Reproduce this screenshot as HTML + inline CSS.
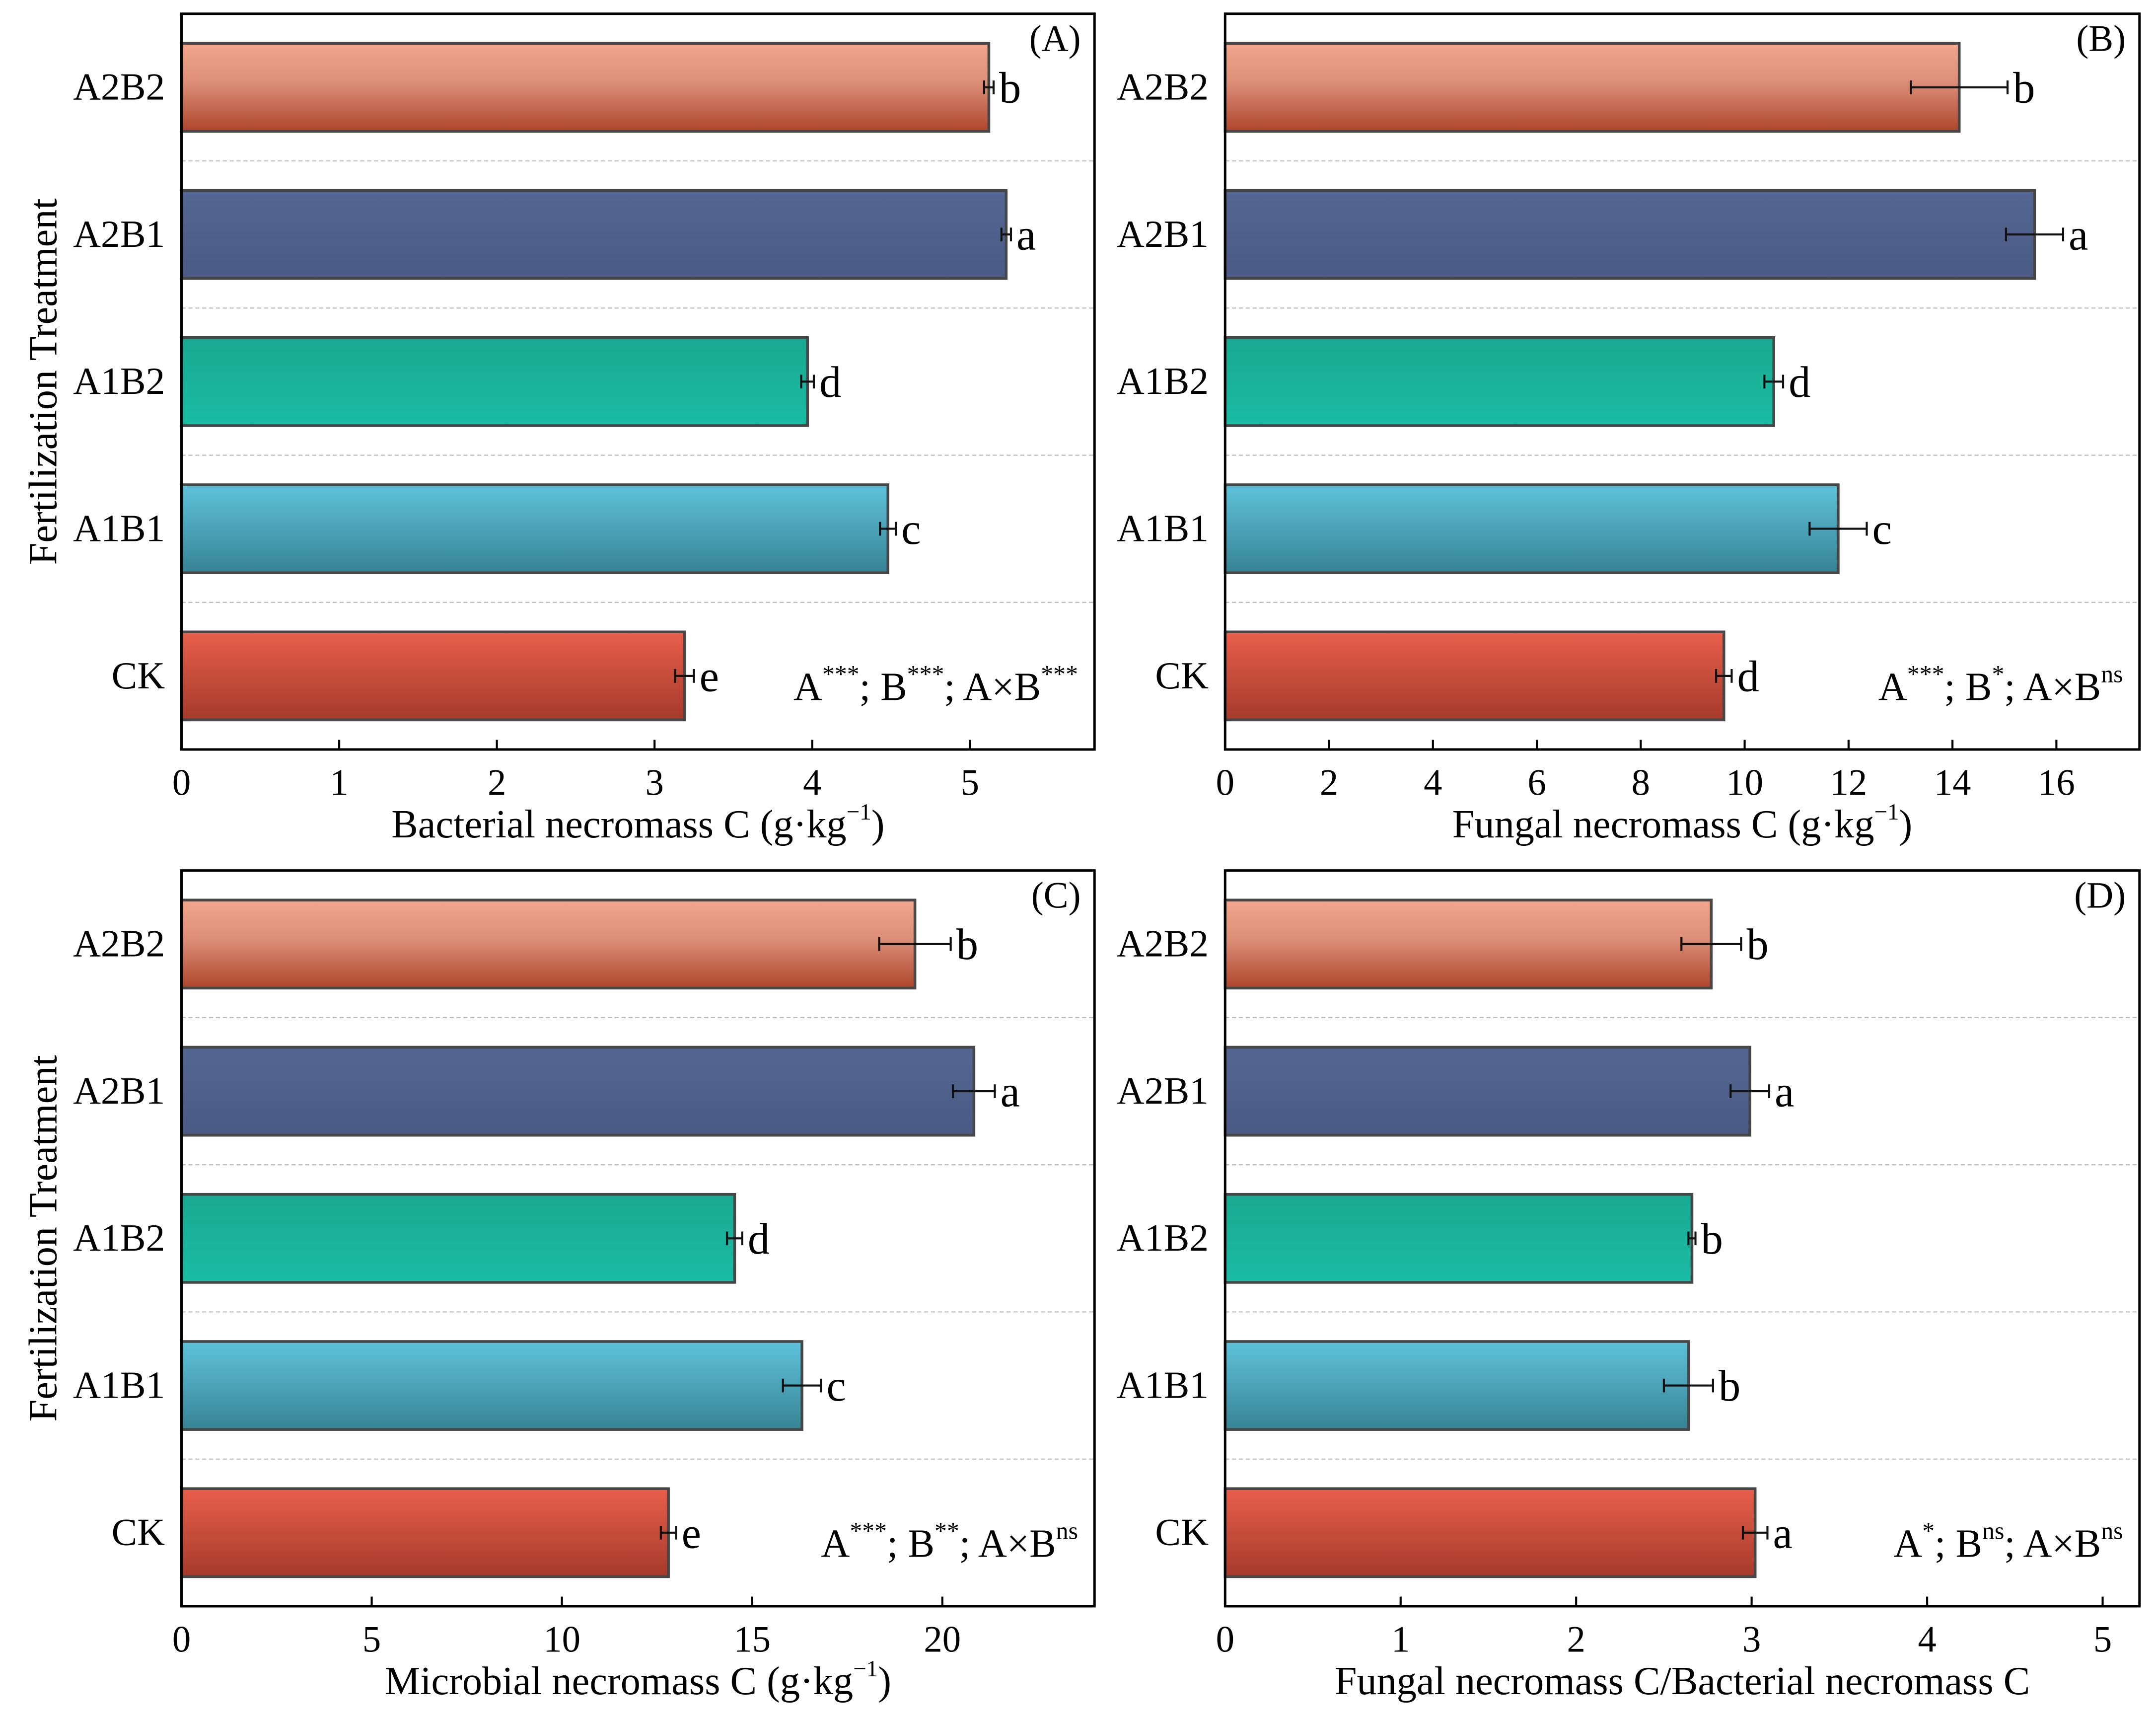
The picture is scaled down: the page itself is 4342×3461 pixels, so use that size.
<!DOCTYPE html>
<html><head><meta charset="utf-8"><style>
html,body{margin:0;padding:0;background:#fff;}
svg{display:block;}
text{font-family:"Liberation Serif",serif;fill:#000;}
</style></head><body>
<svg id="fig" width="4342" height="3461" viewBox="0 0 1568 1250" preserveAspectRatio="none" xmlns="http://www.w3.org/2000/svg">
<defs>
<linearGradient id="g0" x1="0" y1="0" x2="0" y2="1"><stop offset="0" stop-color="#f2a68c"/><stop offset="0.45" stop-color="#dc8e78"/><stop offset="1" stop-color="#ad462c"/></linearGradient>
<linearGradient id="g1" x1="0" y1="0" x2="0" y2="1"><stop offset="0" stop-color="#536792"/><stop offset="1" stop-color="#4a5a84"/></linearGradient>
<linearGradient id="g2" x1="0" y1="0" x2="0" y2="1"><stop offset="0" stop-color="#1aa892"/><stop offset="1" stop-color="#1abca3"/></linearGradient>
<linearGradient id="g3" x1="0" y1="0" x2="0" y2="1"><stop offset="0" stop-color="#5ec2da"/><stop offset="0.45" stop-color="#4ea6bc"/><stop offset="1" stop-color="#368394"/></linearGradient>
<linearGradient id="g4" x1="0" y1="0" x2="0" y2="1"><stop offset="0" stop-color="#e85f4b"/><stop offset="1" stop-color="#a53a2b"/></linearGradient>
</defs>
</svg>
<script>
const categories = ["A2B2","A2B1","A1B2","A1B1","CK"];
const valuesA = [5.12, 5.23, 3.97, 4.48, 3.19];
const errorsA = [0.03, 0.03, 0.04, 0.05, 0.06];
const lettersA = ["b","a","d","c","e"];
const ticksA = [0,1,2,3,4,5];
const valuesB = [14.13, 15.58, 10.56, 11.8, 9.6];
const errorsB = [0.93, 0.55, 0.18, 0.55, 0.15];
const lettersB = ["b","a","d","c","d"];
const ticksB = [0,2,4,6,8,10,12,14,16];
const valuesC = [19.28, 20.83, 14.54, 16.31, 12.8];
const errorsC = [0.94, 0.55, 0.2, 0.5, 0.2];
const lettersC = ["b","a","d","c","e"];
const ticksC = [0,5,10,15,20];
const valuesD = [2.77, 2.99, 2.66, 2.64, 3.02];
const errorsD = [0.17, 0.11, 0.02, 0.14, 0.07];
const lettersD = ["b","a","b","b","a"];
const ticksD = [0,1,2,3,4,5];

const NS="http://www.w3.org/2000/svg";
const svg=document.getElementById('fig');
function mk(tag,attrs,parent){const e=document.createElementNS(NS,tag);for(const k in attrs)e.setAttribute(k,attrs[k]);(parent||svg).appendChild(e);return e;}

const panels=[
 {id:'a',x0:132,x1:796,y0:10,y1:545,max:5.79,vals:valuesA,errs:errorsA,lets:lettersA,ticks:ticksA,label:'(A)',title:['Bacterial necromass C (g·kg','−1',')'],ann:[['A','***'],['; B','***'],['; A×B','***']],ytitle:true},
 {id:'b',x0:891,x1:1556,y0:10,y1:545,max:17.6,vals:valuesB,errs:errorsB,lets:lettersB,ticks:ticksB,label:'(B)',title:['Fungal necromass C (g·kg','−1',')'],ann:[['A','***'],['; B','*'],['; A×B','ns']],ytitle:false},
 {id:'c',x0:132,x1:796,y0:633,y1:1168,max:24.0,vals:valuesC,errs:errorsC,lets:lettersC,ticks:ticksC,label:'(C)',title:['Microbial necromass C (g·kg','−1',')'],ann:[['A','***'],['; B','**'],['; A×B','ns']],ytitle:true},
 {id:'d',x0:891,x1:1556,y0:633,y1:1168,max:5.21,vals:valuesD,errs:errorsD,lets:lettersD,ticks:ticksD,label:'(D)',title:['Fungal necromass C/Bacterial necromass C'],ann:[['A','*'],['; B','ns'],['; A×B','ns']],ytitle:false}
];

panels.forEach(p=>{
 const g=mk('g',{});
 
 
 const xs=v=>p.x0+(p.x1-p.x0)*v/p.max;
 const band=(p.y1-p.y0)/categories.length;
 const yc=i=>p.y0+band*(i+0.5);
 for(let i=1;i<categories.length;i++){
  const l=mk('line',{x1:p.x0,x2:p.x1,y1:p.y0+band*i,y2:p.y0+band*i,stroke:'#bbb','stroke-width':0.8,'stroke-dasharray':'3,2'},g);
  
  
 }
 categories.forEach((c,i)=>{
  const bh=64;
  const r=mk('rect',{x:p.x0,y:yc(i)-bh/2,width:xs(p.vals[i])-p.x0,height:bh,fill:'url(#g'+i+')',stroke:'#474747','stroke-width':2},g);
  
  
  const e0=xs(p.vals[i]-p.errs[i]),e1=xs(p.vals[i]+p.errs[i]),y=yc(i);
  const eb=mk('path',{d:`M${e0},${y}H${e1}M${e0},${y-5}V${y+5}M${e1},${y-5}V${y+5}`,stroke:'#111','stroke-width':1.5,fill:'none'},g);
  
  
  const t=mk('text',{x:e1+4,y:y+11,'font-size':32},g);t.textContent=p.lets[i];
  
  
  const cl=mk('text',{x:p.x0-12,y:y+9,'font-size':28,'text-anchor':'end'},g);cl.textContent=c;
  
  
 });
 const fr=mk('rect',{x:p.x0,y:p.y0,width:p.x1-p.x0,height:p.y1-p.y0,fill:'none',stroke:'#000','stroke-width':1.8},g);
 
 
 p.ticks.forEach(tv=>{
  const x=xs(tv);
  if(tv>0){const tk=mk('line',{x1:x,x2:x,y1:p.y1,y2:p.y1-7,stroke:'#000','stroke-width':1.5},g);
  
  }
  const tl=mk('text',{x:x,y:p.y1+33,'font-size':27,'text-anchor':'middle'},g);tl.textContent=tv;
  
  
 });
 const xt=mk('text',{x:(p.x0+p.x1)/2,y:p.y1+64,'font-size':29,'text-anchor':'middle'},g);
 
 
 p.title.forEach((s,k)=>{const ts=mk('tspan',k===1?{'font-size':17,dy:-13}:(k===2?{dy:13}:{}),xt);ts.textContent=s;});
 const pl=mk('text',{x:p.x1-10,y:p.y0+27,'font-size':27,'text-anchor':'end'},g);pl.textContent=p.label;
 
 
 const an=mk('text',{x:p.x1-12,y:p.y1-36,'font-size':29,'text-anchor':'end'},g);
 
 
 p.ann.forEach((a,k)=>{const t1=mk('tspan',k>0?{dy:13}:{},an);t1.textContent=a[0];const t2=mk('tspan',{'font-size':18,dy:-13},an);t2.textContent=a[1];});
 if(p.ytitle){
  const yt=mk('text',{x:0,y:0,'font-size':29,'text-anchor':'middle',transform:`translate(41,${(p.y0+p.y1)/2}) rotate(-90)`},g);
  yt.textContent='Fertilization Treatment';
  
  
 }
});
</script>
</body></html>
